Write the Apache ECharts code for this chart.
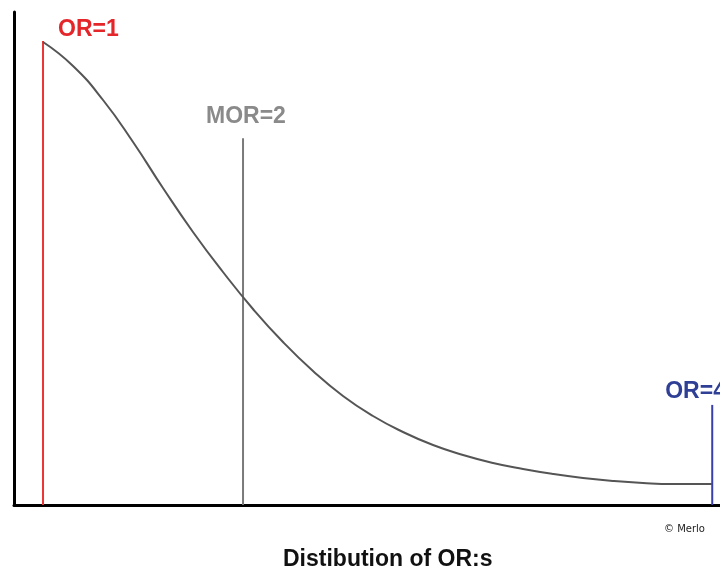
<!DOCTYPE html>
<html>
<head>
<meta charset="utf-8">
<script src="https://cdn.jsdelivr.net/npm/echarts@6/dist/echarts.min.js"></script>
<style>
  html, body { margin: 0; padding: 0; background: #fff; }
  #main { width: 720px; height: 570px; }
</style>
</head>
<body>
<div id="main"></div>
<script>
// curve (x: position along OR axis, y: density, both 0-100)
var curveX = [4.11, 8.36, 12.61, 16.86, 21.10, 25.35, 29.60, 33.85, 38.10, 42.35, 46.60, 50.85, 55.10, 59.35, 63.60, 67.85, 72.10, 76.35, 80.59, 84.84, 89.09, 93.34, 98.87];
var curveY = [93.91, 89.05, 82.15, 73.63, 64.30, 55.38, 47.26, 39.76, 33.06, 27.18, 22.11, 18.05, 14.81, 12.17, 10.14, 8.52, 7.30, 6.29, 5.48, 4.87, 4.46, 4.26, 4.26];

// reference lines: name, x position, height
var refNames = ['OR=1', 'MOR=2', 'OR=4'];
var refX = [4.11, 32.44, 98.9];
var refTop = [94.1, 74.4, 20.3];

var chart = echarts.init(document.getElementById('main'));

var curve = curveX.map(function (x, i) { return [x, curveY[i]]; });

function refSeries(i, lineColor, textColor, offset) {
  return {
    name: refNames[i],
    type: 'line',
    data: [[refX[i], 0], [refX[i], refTop[i]]],
    showSymbol: false,
    symbol: 'none',
    lineStyle: { color: lineColor, width: 2 },
    endLabel: {
      show: true,
      formatter: refNames[i],
      color: textColor,
      fontFamily: 'Liberation Sans, Arial, sans-serif',
      fontWeight: 'bold',
      fontSize: 23,
      offset: offset
    },
    z: 3
  };
}

var option = {
  animation: false,
  backgroundColor: '#fff',
  title: [
    {
      text: 'Distibution of OR:s',
      left: 278,
      top: 543,
      textStyle: { fontFamily: 'Liberation Sans, Arial, sans-serif', fontWeight: 'bold', fontSize: 23, color: '#111' }
    },
    {
      text: '© Merlo',
      left: 659,
      top: 519,
      textStyle: { fontFamily: 'DejaVu Sans, sans-serif', fontWeight: 'normal', fontSize: 10, color: '#222' }
    }
  ],
  grid: { left: 14, right: 0, top: 12, bottom: 65 },
  xAxis: {
    type: 'value',
    min: 0,
    max: 100,
    axisLine: { show: true, onZero: false, lineStyle: { color: '#000', width: 3 } },
    axisTick: { show: false },
    axisLabel: { show: false },
    splitLine: { show: false }
  },
  yAxis: {
    type: 'value',
    min: 0,
    max: 100,
    axisLine: { show: true, onZero: false, lineStyle: { color: '#000', width: 3 } },
    axisTick: { show: false },
    axisLabel: { show: false },
    splitLine: { show: false }
  },
  series: [
    {
      name: 'density',
      type: 'line',
      data: curve,
      smooth: 0.5,
      showSymbol: false,
      symbol: 'none',
      lineStyle: { color: '#555', width: 2 },
      z: 4
    },
    refSeries(0, '#ee3535', '#e4262a', [7, -11]),
    refSeries(1, '#7a7a7a', '#8a8a8a', [-45, -22]),
    refSeries(2, '#3a3fae', '#2e3f95', [-55, -13])
  ]
};

chart.setOption(option);
</script>
</body>
</html>
